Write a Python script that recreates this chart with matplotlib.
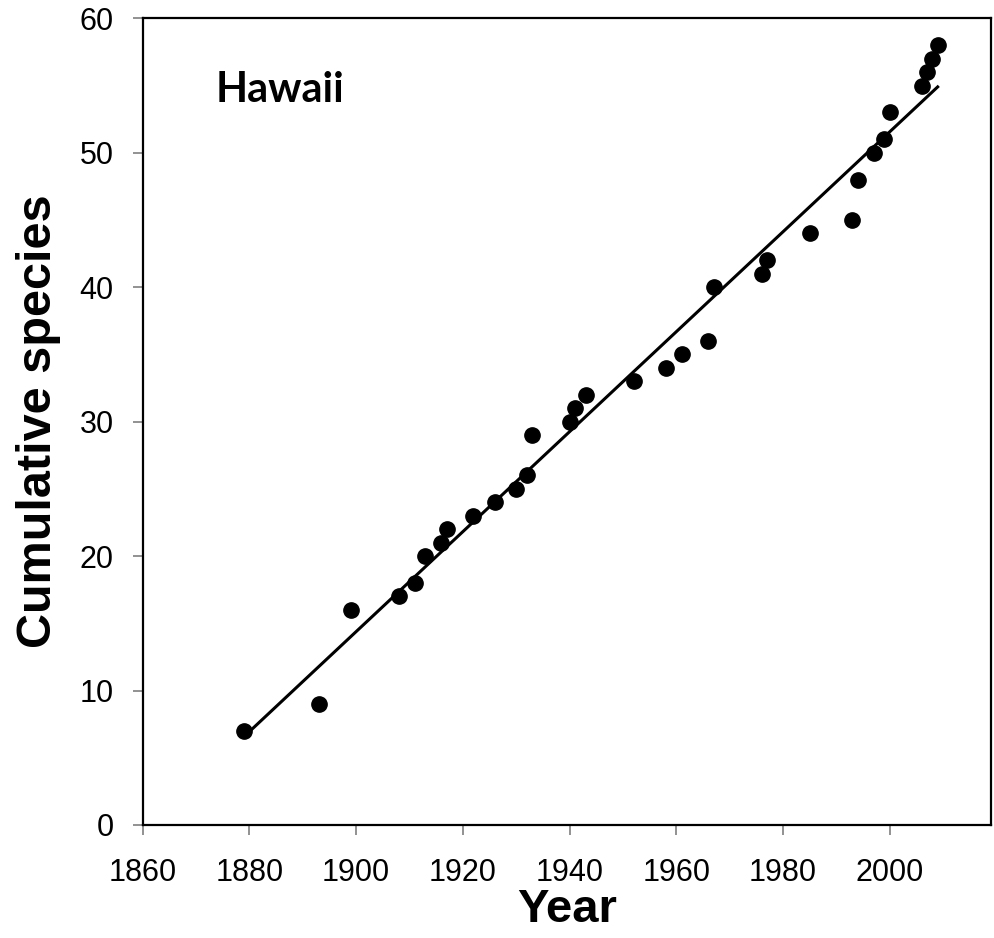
import numpy as np
import matplotlib.pyplot as plt

# Hawaii: year each species was first recorded, and running total
years = [1879, 1893, 1899, 1908, 1911, 1913, 1916, 1917, 1922, 1926, 1930,
         1932, 1933, 1940, 1941, 1943, 1952, 1958, 1961, 1966, 1967, 1976,
         1977, 1985, 1993, 1994, 1997, 1999, 2000, 2006, 2007, 2008, 2009]
species = [7, 9, 16, 17, 18, 20, 21, 22, 23, 24, 25,
           26, 29, 30, 31, 32, 33, 34, 35, 36, 40, 41,
           42, 44, 45, 48, 50, 51, 53, 55, 56, 57, 58]
xticks = [1860, 1880, 1900, 1920, 1940, 1960, 1980, 2000]
yticks = [0, 10, 20, 30, 40, 50, 60]

plt.rcParams['font.family'] = ['Liberation Sans', 'DejaVu Sans']

fig = plt.figure(figsize=(9.95, 9.38), dpi=100)
ax = fig.add_axes([0.1434, 0.1205, 0.8526, 0.86])

xs = np.array(years)
ys = np.array(species)
ax.plot(xs, ys, 'o', color='black', markersize=11, zorder=3)

# linear trend over the data range
slope, icept = np.polyfit(xs, ys, 1)
fit_x = np.array([xs.min(), xs.max()])
ax.plot(fit_x, slope * fit_x + icept, color='black', lw=2.2, zorder=2)

ax.set_xlim(1860, 2019)
ax.set_ylim(0, 60)
ax.set_xticks(xticks)
ax.set_yticks(yticks)
ax.tick_params(labelsize=22, length=7, width=1.2, color='#7f7f7f')
ax.tick_params(axis='x', pad=17)
ax.tick_params(axis='y', pad=14)
for s in ax.spines.values():
    s.set_linewidth(1.6)

ax.set_xlabel('Year', fontsize=34, fontweight='bold', labelpad=0)
ax.set_ylabel('Cumulative species', fontsize=35, fontweight='bold', labelpad=13)

# panel title, placed in pixels from the top-left corner
fig.text(216 / 995, 1 - 102 / 938, 'Hawaii', fontsize=30, fontweight='bold',
         family=['Lato', 'DejaVu Sans'])

fig.savefig('out.png', dpi=100)
